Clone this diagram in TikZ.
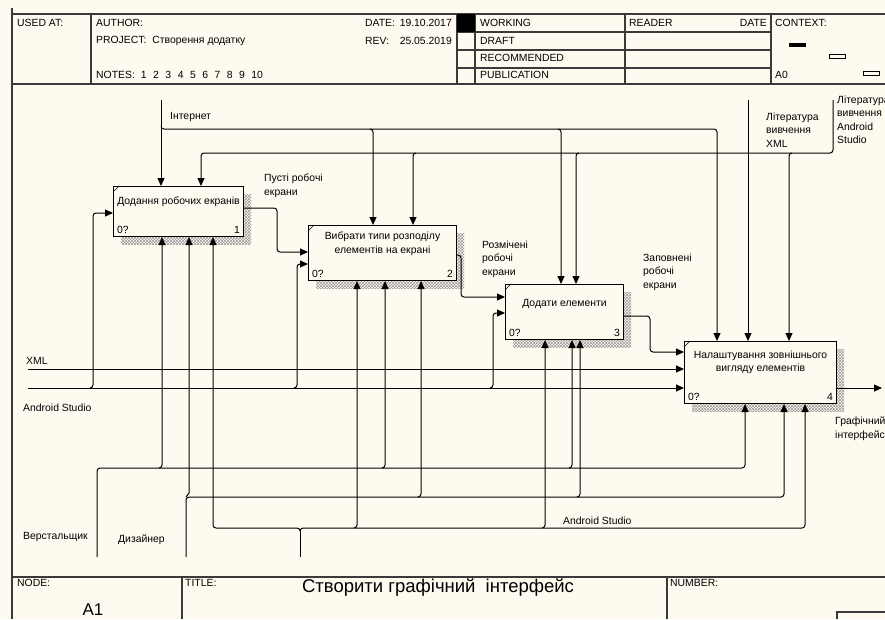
\documentclass[tikz,border=0pt]{standalone}
\usepackage{fontspec}
\setmainfont{Liberation Sans}
\usetikzlibrary{arrows.meta,calc,patterns}
\definecolor{cream}{HTML}{FFFAF0}
\definecolor{framec}{HTML}{3A3A3A}
\begin{document}
\begin{tikzpicture}[x=1pt,y=-1pt,
  every node/.style={inner sep=0pt, font=\fontsize{10.4}{13.2}\selectfont},
  arr/.style={line width=1pt, rounded corners=3pt, -{Triangle[length=8pt,width=7pt]}},
  ln/.style={line width=1pt, rounded corners=3pt},
  fl/.style={line width=1.3pt, draw=framec},
  abox/.style={draw, line width=1pt, fill=cream, anchor=north west},
  shad/.style={pattern=crosshatch, pattern color=gray!80},
  lbl/.style={anchor=north west, align=left},
  hl/.style={anchor=west},
  btxt/.style={align=center, anchor=north}
]
\useasboundingbox (0,0) rectangle (885,619);
\fill[cream] (0,0) rectangle (885,619);

% ---------- frame ----------
\draw[line width=2.2pt, draw=framec] (12,8) -- (12,619);
\draw[fl] (12,14) -- (885,14);
\draw[fl] (12,84) -- (885,84);
\draw[fl] (91,14) -- (91,84);
\draw[fl] (457,14) -- (457,84);
\draw[fl] (475,14) -- (475,84);
\draw[fl] (625,14) -- (625,84);
\draw[fl] (771,14) -- (771,84);
\draw[fl] (457,32) -- (771,32);
\draw[fl] (457,50) -- (771,50);
\draw[fl] (457,68) -- (771,68);
\fill[black] (457,14) rectangle (475,32);
\draw[fl] (12,577) -- (885,577);
\draw[fl] (182,577) -- (182,619);
\draw[fl] (667,577) -- (667,619);
\draw[fl] (837,619) -- (837,612) -- (885,612);
% context marks
\fill[black] (789,43) rectangle (806,47);
\draw[line width=0.8pt] (829,54) rectangle (845,58);
\draw[line width=0.8pt] (863,71) rectangle (879,75);

% ---------- header texts ----------
\node[hl] (usedat) at (17,23) {USED AT:};
\node[hl] (author) at (96,23) {AUTHOR:};
\node[hl] (project) at (96,41) {PROJECT:\hspace{6pt}Створення додатку};
\node[hl] (notes) at (96,75) {NOTES:\hspace{6pt}1\hspace{6.5pt}2\hspace{6.5pt}3\hspace{6.5pt}4\hspace{6.5pt}5\hspace{6.5pt}6\hspace{6.5pt}7\hspace{6.5pt}8\hspace{6.5pt}9\hspace{6.5pt}10};
\node[hl] (datel) at (365,23) {DATE:};
\node[anchor=east] (datev) at (452,23) {19.10.2017};
\node[hl] (revl) at (365,41) {REV:};
\node[anchor=east] (revv) at (452,41) {25.05.2019};
\node[hl] (working) at (480,23) {WORKING};
\node[hl] (draft) at (480,41) {DRAFT};
\node[hl] (recom) at (480,58) {RECOMMENDED};
\node[hl] (publ) at (480,75) {PUBLICATION};
\node[hl] (reader) at (629,23) {READER};
\node[anchor=east] (rdate) at (767,23) {DATE};
\node[hl] (context) at (775,23) {CONTEXT:};
\node[hl] (a0) at (775,75) {A0};
\node[hl] (nodel) at (17,583) {NODE:};
\node[hl] (titlel) at (185,583) {TITLE:};
\node[hl] (numberl) at (670,583) {NUMBER:};
\node[font=\fontsize{17}{20}\selectfont] (a1) at (93,610) {A1};
\node[font=\fontsize{18.5}{22}\selectfont] (title) at (438,588) {Створити графічний\hspace{5pt} інтерфейс};

% ---------- boxes ----------
\fill[shad] (121,194) rectangle (251,244);
\fill[shad] (316,233) rectangle (464,288);
\fill[shad] (513,292) rectangle (631,347);
\fill[shad] (692,349) rectangle (844,411);
\node[abox, minimum width=130pt, minimum height=50pt] (b1) at (113,186) {};
\node[abox, minimum width=148pt, minimum height=55pt] (b2) at (308,225) {};
\node[abox, minimum width=118pt, minimum height=55pt] (b3) at (505,284) {};
\node[abox, minimum width=152pt, minimum height=62pt] (b4) at (684,341) {};
\foreach \b in {b1,b2,b3,b4}{
  \draw[line width=0.6pt] ($(\b.north west)+(0,6)$) -- ($(\b.north west)+(6,0)$);
  \node[anchor=south west] at ($(\b.south west)+(4,-3)$) {0?};
}
\node[anchor=south east] (n1) at ($(b1.south east)+(-4,-3)$) {1};
\node[anchor=south east] (n2) at ($(b2.south east)+(-4,-3)$) {2};
\node[anchor=south east] (n3) at ($(b3.south east)+(-4,-3)$) {3};
\node[anchor=south east] (n4) at ($(b4.south east)+(-4,-3)$) {4};
\node[btxt] (t1) at ($(b1.north)+(0,11)$) {Додання робочих екранів};
\node[btxt] (t2) at ($(b2.north)+(0,7)$) {Вибрати типи розподілу\\елементів на екрані};
\node[btxt] (t3) at ($(b3.north)+(0,15)$) {Додати елементи};
\node[btxt] (t4) at ($(b4.north)+(0,10)$) {Налаштування зовнішнього\\вигляду елементів};

% ---------- boundary points ----------
\coordinate (inet) at (161,100);
\coordinate (litas) at (833,100);
\coordinate (litxml) at (748,100);
\coordinate (xmlin) at (28,369);
\coordinate (asin) at (28,388);
\coordinate (out) at (882,388);
\coordinate (verst) at (97,557);
\coordinate (dyz) at (186,557);
\coordinate (asm) at (300,557);

% ---------- controls ----------
\draw[arr] (inet) -- (161,0 |- b1.north);
\draw[arr] (161,126) -- (161,129) -- (717,129) -- (717,0 |- b4.north);
\draw[arr] (370,129) -- (373,129) -- (373,0 |- b2.north);
\draw[arr] (558,129) -- (561,129) -- (561,0 |- b3.north);
\draw[arr] (litas) -- (833,153) -- (201,153) -- (201,0 |- b1.north);
\draw[arr] (416,153) -- (413,153) -- (413,0 |- b2.north);
\draw[arr] (579,153) -- (576,153) -- (576,0 |- b3.north);
\draw[arr] (792,153) -- (789,153) -- (789,0 |- b4.north);
\draw[arr] (litxml) -- (748,0 |- b4.north);
\node[lbl] (linet) at (170,112) {Інтернет};
\node[lbl] (llitxml) at (766,113) {Література\\вивчення\\XML};
\node[lbl] (llitas) at (837,96) {Література\\вивчення\\Android\\Studio};

% ---------- inputs ----------
\draw[arr] (xmlin) -- (b4.west |- 0,369);
\draw[arr] (asin) -- (b4.west |- 0,388);
\draw[arr] (90,388) -- (93,388) -- (93,213) -- (b1.west |- 0,213);
\draw[arr] (294,388) -- (297,388) -- (297,264) -- (b2.west |- 0,264);
\draw[arr] (490,388) -- (493,388) -- (493,313) -- (b3.west |- 0,313);
\node[anchor=west] (lxml) at (26,361) {XML};
\node[anchor=west] (lasin) at (23,408) {Android Studio};

% ---------- outputs ----------
\draw[arr] (b1.east |- 0,208) -- (277,208) -- (277,252) -- (b2.west |- 0,252);
\draw[arr] (b2.east |- 0,255) -- (461,255) -- (461,297) -- (b3.west |- 0,297);
\draw[arr] (b3.east |- 0,316) -- (650,316) -- (650,352) -- (b4.west |- 0,352);
\draw[arr] (b4.east |- 0,388) -- (out);
\node[lbl] (lo1) at (264,174) {Пусті робочі\\екрани};
\node[lbl] (lo2) at (482,241) {Розмічені\\робочі\\екрани};
\node[lbl] (lo3) at (643,254) {Заповнені\\робочі\\екрани};
\node[lbl] (lo4) at (835,417) {Графічний\\інтерфейс};

% ---------- mechanisms ----------
\draw[arr] (verst) -- (97,468) -- (745,468) -- (745,0 |- b4.south);
\draw[arr] (159,468) -- (162,468) -- (162,0 |- b1.south);
\draw[arr] (382,468) -- (385,468) -- (385,0 |- b2.south);
\draw[arr] (569,468) -- (572,468) -- (572,0 |- b3.south);
\draw[arr] (dyz) -- (186,497) -- (784,497) -- (784,0 |- b4.south);
\draw[arr, rounded corners=0pt] (186,497) -- (189,493) -- (189,0 |- b1.south);
\draw[arr] (418,497) -- (421,497) -- (421,0 |- b2.south);
\draw[arr] (577,497) -- (580,497) -- (580,0 |- b3.south);
\draw[ln] (asm) -- (300,531);
\draw[arr] (300,531) -- (300,528) -- (213,528) -- (213,0 |- b1.south);
\draw[arr] (300,531) -- (300,528) -- (805,528) -- (805,0 |- b4.south);
\draw[arr] (354,528) -- (357,528) -- (357,0 |- b2.south);
\draw[arr] (542,528) -- (545,528) -- (545,0 |- b3.south);
\node[anchor=west] (lverst) at (23,537) {Верстальщик};
\node[anchor=west] (ldyz) at (118,540) {Дизайнер};
\node[anchor=west] (lasm) at (563,521) {Android Studio};
\end{tikzpicture}
\end{document}
